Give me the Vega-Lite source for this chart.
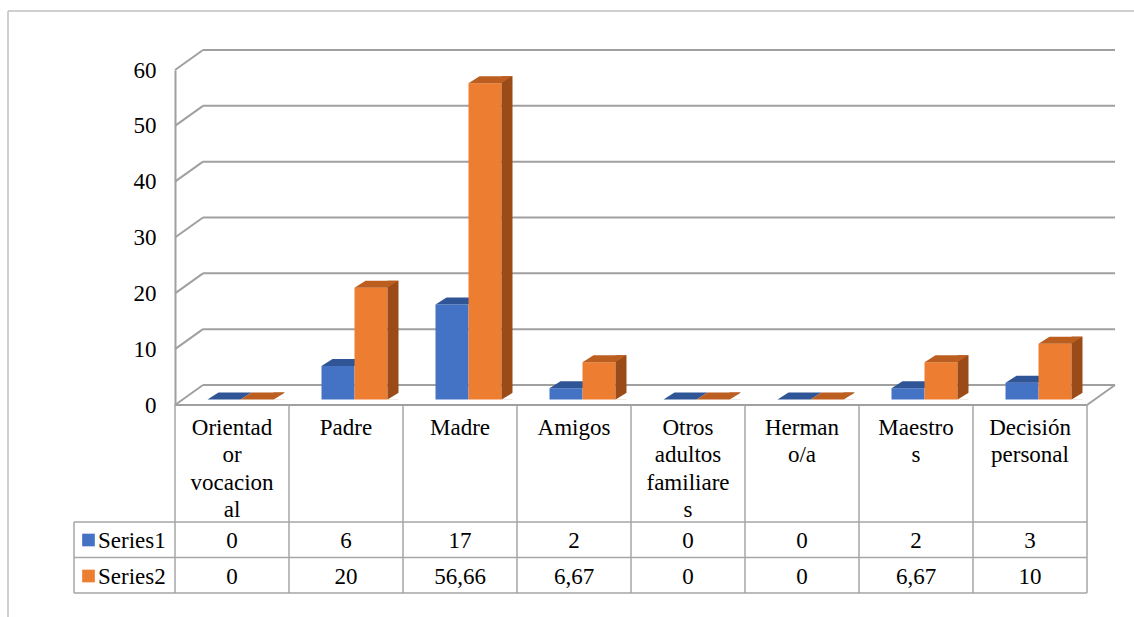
{
  "$schema": "https://vega.github.io/schema/vega-lite/v6.json",
  "width": 912,
  "height": 335,
  "autosize": {"type": "none"},
  "padding": {"left": 175, "top": 70, "right": 47, "bottom": 212},
  "background": "white",
  "config": {
    "view": {"stroke": null},
    "locale": {"number": {"decimal": ",", "thousands": ".", "grouping": [3], "currency": ["", " €"]}},
    "scale": {"bandPaddingInner": 0, "bandPaddingOuter": 0, "barBandPaddingInner": 0, "rectBandPaddingInner": 0},
    "axisX": {"disable": true}
  },
  "datasets": {
    "bars": [
      {"cat": "Orientador vocacional", "series": "Series1", "value": 0},
      {"cat": "Padre", "series": "Series1", "value": 6},
      {"cat": "Madre", "series": "Series1", "value": 17},
      {"cat": "Amigos", "series": "Series1", "value": 2},
      {"cat": "Otros adultos familiares", "series": "Series1", "value": 0},
      {"cat": "Hermano/a", "series": "Series1", "value": 0},
      {"cat": "Maestros", "series": "Series1", "value": 2},
      {"cat": "Decisión personal", "series": "Series1", "value": 3},
      {"cat": "Orientador vocacional", "series": "Series2", "value": 0},
      {"cat": "Padre", "series": "Series2", "value": 20},
      {"cat": "Madre", "series": "Series2", "value": 56.66},
      {"cat": "Amigos", "series": "Series2", "value": 6.67},
      {"cat": "Otros adultos familiares", "series": "Series2", "value": 0},
      {"cat": "Hermano/a", "series": "Series2", "value": 0},
      {"cat": "Maestros", "series": "Series2", "value": 6.67},
      {"cat": "Decisión personal", "series": "Series2", "value": 10}
    ],
    "cats": [
      {"cat": "Orientador vocacional", "label": "Orientad\nor\nvocacion\nal"},
      {"cat": "Padre", "label": "Padre"},
      {"cat": "Madre", "label": "Madre"},
      {"cat": "Amigos", "label": "Amigos"},
      {"cat": "Otros adultos familiares", "label": "Otros\nadultos\nfamiliare\ns"},
      {"cat": "Hermano/a", "label": "Herman\no/a"},
      {"cat": "Maestros", "label": "Maestro\ns"},
      {"cat": "Decisión personal", "label": "Decisión\npersonal"}
    ],
    "grid": [{"v": 0}, {"v": 10}, {"v": 20}, {"v": 30}, {"v": 40}, {"v": 50}, {"v": 60}],
    "series": [{"series": "Series1"}, {"series": "Series2"}],
    "tablerows": [{"row": "top"}, {"row": "mid"}, {"row": "bottom"}],
    "one": [{"k": 1}]
  },
  "layer": [
    {
      "data": {"name": "grid"},
      "mark": {"type": "rule", "color": "#A0A0A0", "strokeWidth": 2, "xOffset": 28, "x2Offset": 28, "yOffset": -20, "y2Offset": -20},
      "encoding": {
        "x": {"datum": "Orientador vocacional", "type": "nominal", "bandPosition": 0, "scale": {"domain": ["Orientador vocacional", "Padre", "Madre", "Amigos", "Otros adultos familiares", "Hermano/a", "Maestros", "Decisión personal"]}},
        "x2": {"datum": "Decisión personal", "bandPosition": 1},
        "y": {"field": "v", "type": "quantitative", "scale": {"domain": [0, 60], "nice": false}, "title": null,
              "axis": {"values": [0, 10, 20, 30, 40, 50, 60], "labelFont": "Liberation Serif, Times New Roman, serif", "labelFontSize": 23, "labelColor": "#000000", "labelPadding": 19, "domainColor": "#A0A0A0", "domainWidth": 2, "ticks": false, "grid": false, "title": null}},
        "y2": {"field": "v"}
      }
    },
    {
      "data": {"name": "grid"},
      "mark": {"type": "rule", "color": "#A0A0A0", "strokeWidth": 2, "x2Offset": 28, "y2Offset": -20},
      "encoding": {
        "x": {"datum": "Orientador vocacional", "type": "nominal", "bandPosition": 0},
        "x2": {"datum": "Orientador vocacional", "bandPosition": 0},
        "y": {"field": "v", "type": "quantitative", "title": null},
        "y2": {"field": "v"}
      }
    },
    {
      "data": {"name": "one"},
      "mark": {"type": "rule", "color": "#A0A0A0", "strokeWidth": 2, "x2Offset": 28, "y2Offset": -20},
      "encoding": {
        "x": {"datum": "Decisión personal", "type": "nominal", "bandPosition": 1},
        "x2": {"datum": "Decisión personal", "bandPosition": 1},
        "y": {"datum": 0, "type": "quantitative", "title": null},
        "y2": {"datum": 0}
      }
    },
    {
      "data": {"name": "one"},
      "mark": {"type": "rule", "color": "#BFBFBF", "strokeWidth": 1.5, "xOffset": -167, "x2Offset": 60, "yOffset": -59, "y2Offset": -59},
      "encoding": {
        "x": {"datum": "Orientador vocacional", "type": "nominal", "bandPosition": 0},
        "x2": {"datum": "Decisión personal", "bandPosition": 1},
        "y": {"datum": 60, "type": "quantitative", "title": null},
        "y2": {"datum": 60}
      }
    },
    {
      "data": {"name": "one"},
      "mark": {"type": "rule", "color": "#BFBFBF", "strokeWidth": 1.5, "xOffset": -167, "x2Offset": -167, "yOffset": -59, "y2Offset": 212},
      "encoding": {
        "x": {"datum": "Orientador vocacional", "type": "nominal", "bandPosition": 0},
        "x2": {"datum": "Orientador vocacional", "bandPosition": 0},
        "y": {"datum": 60, "type": "quantitative", "title": null},
        "y2": {"datum": 0}
      }
    },
    {
      "data": {"name": "one"},
      "mark": {"type": "rule", "color": "#A0A0A0", "strokeWidth": 2},
      "encoding": {
        "x": {"datum": "Orientador vocacional", "type": "nominal", "bandPosition": 0},
        "x2": {"datum": "Decisión personal", "bandPosition": 1},
        "y": {"datum": 0, "type": "quantitative", "title": null},
        "y2": {"datum": 0}
      }
    },
    {
      "data": {"name": "cats"},
      "mark": {"type": "rule", "color": "#A6A6A6", "strokeWidth": 1.5, "y2Offset": 188},
      "encoding": {
        "x": {"field": "cat", "type": "nominal", "bandPosition": 0},
        "x2": {"field": "cat", "bandPosition": 0},
        "y": {"datum": 0, "type": "quantitative", "title": null},
        "y2": {"datum": 0}
      }
    },
    {
      "data": {"name": "one"},
      "mark": {"type": "rule", "color": "#A6A6A6", "strokeWidth": 1.5, "y2Offset": 188},
      "encoding": {
        "x": {"datum": "Decisión personal", "type": "nominal", "bandPosition": 1},
        "x2": {"datum": "Decisión personal", "bandPosition": 1},
        "y": {"datum": 0, "type": "quantitative", "title": null},
        "y2": {"datum": 0}
      }
    },
    {
      "data": {"name": "one"},
      "mark": {"type": "rule", "color": "#A6A6A6", "strokeWidth": 1.5, "xOffset": -101, "x2Offset": -101, "yOffset": 117, "y2Offset": 188},
      "encoding": {
        "x": {"datum": "Orientador vocacional", "type": "nominal", "bandPosition": 0},
        "x2": {"datum": "Orientador vocacional", "bandPosition": 0},
        "y": {"datum": 0, "type": "quantitative", "title": null},
        "y2": {"datum": 0}
      }
    },
    {
      "data": {"name": "tablerows"},
      "transform": [{"filter": "datum.row === 'top'"}],
      "mark": {"type": "rule", "color": "#A6A6A6", "strokeWidth": 1.5, "xOffset": -101, "yOffset": 117, "y2Offset": 117},
      "encoding": {
        "x": {"datum": "Orientador vocacional", "type": "nominal", "bandPosition": 0},
        "x2": {"datum": "Decisión personal", "bandPosition": 1},
        "y": {"datum": 0, "type": "quantitative", "title": null},
        "y2": {"datum": 0}
      }
    },
    {
      "data": {"name": "tablerows"},
      "transform": [{"filter": "datum.row === 'mid'"}],
      "mark": {"type": "rule", "color": "#A6A6A6", "strokeWidth": 1.5, "xOffset": -101, "yOffset": 152.5, "y2Offset": 152.5},
      "encoding": {
        "x": {"datum": "Orientador vocacional", "type": "nominal", "bandPosition": 0},
        "x2": {"datum": "Decisión personal", "bandPosition": 1},
        "y": {"datum": 0, "type": "quantitative", "title": null},
        "y2": {"datum": 0}
      }
    },
    {
      "data": {"name": "tablerows"},
      "transform": [{"filter": "datum.row === 'bottom'"}],
      "mark": {"type": "rule", "color": "#A6A6A6", "strokeWidth": 1.5, "xOffset": -101, "yOffset": 188, "y2Offset": 188},
      "encoding": {
        "x": {"datum": "Orientador vocacional", "type": "nominal", "bandPosition": 0},
        "x2": {"datum": "Decisión personal", "bandPosition": 1},
        "y": {"datum": 0, "type": "quantitative", "title": null},
        "y2": {"datum": 0}
      }
    },
    {
      "data": {"name": "bars"},
      "transform": [{"filter": "datum.series === 'Series1'"}],
      "mark": {"type": "bar", "width": 33, "xOffset": -8, "yOffset": -5.5, "y2Offset": -5.5, "color": "#4472C4"},
      "encoding": {
        "x": {"field": "cat", "type": "nominal"},
        "y": {"field": "value", "type": "quantitative", "title": null},
        "y2": {"datum": 0}
      }
    },
    {
      "data": {"name": "bars"},
      "transform": [{"filter": "datum.series === 'Series1'"}],
      "mark": {"type": "point", "shape": "M-1,0.159L0.5,0.159L1,-0.159L-0.5,-0.159Z", "size": 1936, "filled": true, "fill": "#2F5597", "opacity": 1, "strokeWidth": 0, "xOffset": -2.5, "yOffset": -9},
      "encoding": {
        "x": {"field": "cat", "type": "nominal"},
        "y": {"field": "value", "type": "quantitative", "title": null}
      }
    },
    {
      "data": {"name": "bars"},
      "transform": [{"filter": "datum.series === 'Series2'"}],
      "mark": {"type": "bar", "width": 33, "xOffset": 25, "yOffset": -5.5, "y2Offset": -5.5, "color": "#ED7D31"},
      "encoding": {
        "x": {"field": "cat", "type": "nominal"},
        "y": {"field": "value", "type": "quantitative", "title": null},
        "y2": {"datum": 0}
      }
    },
    {
      "data": {"name": "bars"},
      "transform": [{"filter": "datum.series === 'Series2'"}],
      "mark": {"type": "bar", "width": 11, "xOffset": 47, "yOffset": -12.5, "y2Offset": -5.5, "color": "#9A4B17"},
      "encoding": {
        "x": {"field": "cat", "type": "nominal"},
        "y": {"field": "value", "type": "quantitative", "title": null},
        "y2": {"datum": 0}
      }
    },
    {
      "data": {"name": "bars"},
      "transform": [{"filter": "datum.series === 'Series2'"}],
      "mark": {"type": "point", "shape": "M-1,0.159L0.5,0.159L1,-0.159L-0.5,-0.159Z", "size": 1936, "filled": true, "fill": "#BC5E1F", "opacity": 1, "strokeWidth": 0, "xOffset": 30.5, "yOffset": -9},
      "encoding": {
        "x": {"field": "cat", "type": "nominal"},
        "y": {"field": "value", "type": "quantitative", "title": null}
      }
    },
    {
      "data": {"name": "cats"},
      "mark": {"type": "point", "shape": "M-1.05,0.7L1.1,0.7L1.1,-0.64Z", "size": 121, "filled": true, "fill": "#FFFFFF", "opacity": 1, "strokeWidth": 0, "xOffset": 47, "yOffset": -9},
      "encoding": {
        "x": {"field": "cat", "type": "nominal"},
        "y": {"datum": 0, "type": "quantitative", "title": null}
      }
    },
    {
      "data": {"name": "cats"},
      "mark": {"type": "text", "font": "Liberation Serif, Times New Roman, serif", "fontSize": 23, "color": "#000000", "align": "center", "baseline": "top", "lineBreak": "\n", "lineHeight": 27.5, "yOffset": 11.5},
      "encoding": {
        "x": {"field": "cat", "type": "nominal"},
        "y": {"datum": 0, "type": "quantitative", "title": null},
        "text": {"field": "label", "type": "nominal"}
      }
    },
    {
      "data": {"name": "bars"},
      "transform": [{"filter": "datum.series === 'Series1'"}],
      "mark": {"type": "text", "font": "Liberation Serif, Times New Roman, serif", "fontSize": 23, "color": "#000000", "align": "center", "baseline": "middle", "yOffset": 136},
      "encoding": {
        "x": {"field": "cat", "type": "nominal"},
        "y": {"datum": 0, "type": "quantitative", "title": null},
        "text": {"field": "value", "type": "quantitative", "format": "~g"}
      }
    },
    {
      "data": {"name": "bars"},
      "transform": [{"filter": "datum.series === 'Series2'"}],
      "mark": {"type": "text", "font": "Liberation Serif, Times New Roman, serif", "fontSize": 23, "color": "#000000", "align": "center", "baseline": "middle", "yOffset": 172},
      "encoding": {
        "x": {"field": "cat", "type": "nominal"},
        "y": {"datum": 0, "type": "quantitative", "title": null},
        "text": {"field": "value", "type": "quantitative", "format": "~g"}
      }
    },
    {
      "data": {"name": "series"},
      "transform": [{"filter": "datum.series === 'Series1'"}],
      "mark": {"type": "text", "font": "Liberation Serif, Times New Roman, serif", "fontSize": 23, "color": "#000000", "align": "left", "baseline": "middle", "xOffset": -77, "yOffset": 136},
      "encoding": {
        "x": {"datum": "Orientador vocacional", "type": "nominal", "bandPosition": 0},
        "y": {"datum": 0, "type": "quantitative", "title": null},
        "text": {"field": "series", "type": "nominal"}
      }
    },
    {
      "data": {"name": "series"},
      "transform": [{"filter": "datum.series === 'Series2'"}],
      "mark": {"type": "text", "font": "Liberation Serif, Times New Roman, serif", "fontSize": 23, "color": "#000000", "align": "left", "baseline": "middle", "xOffset": -77, "yOffset": 172},
      "encoding": {
        "x": {"datum": "Orientador vocacional", "type": "nominal", "bandPosition": 0},
        "y": {"datum": 0, "type": "quantitative", "title": null},
        "text": {"field": "series", "type": "nominal"}
      }
    },
    {
      "data": {"name": "series"},
      "transform": [{"filter": "datum.series === 'Series1'"}],
      "mark": {"type": "square", "size": 160, "filled": true, "opacity": 1, "xOffset": -86.5, "yOffset": 135},
      "encoding": {
        "x": {"datum": "Orientador vocacional", "type": "nominal", "bandPosition": 0},
        "y": {"datum": 0, "type": "quantitative", "title": null},
        "color": {"field": "series", "type": "nominal", "scale": {"domain": ["Series1", "Series2"], "range": ["#4472C4", "#ED7D31"]}, "legend": null}
      }
    },
    {
      "data": {"name": "series"},
      "transform": [{"filter": "datum.series === 'Series2'"}],
      "mark": {"type": "square", "size": 160, "filled": true, "opacity": 1, "xOffset": -86.5, "yOffset": 171},
      "encoding": {
        "x": {"datum": "Orientador vocacional", "type": "nominal", "bandPosition": 0},
        "y": {"datum": 0, "type": "quantitative", "title": null},
        "color": {"field": "series", "type": "nominal", "scale": {"domain": ["Series1", "Series2"], "range": ["#4472C4", "#ED7D31"]}, "legend": null}
      }
    }
  ]
}
